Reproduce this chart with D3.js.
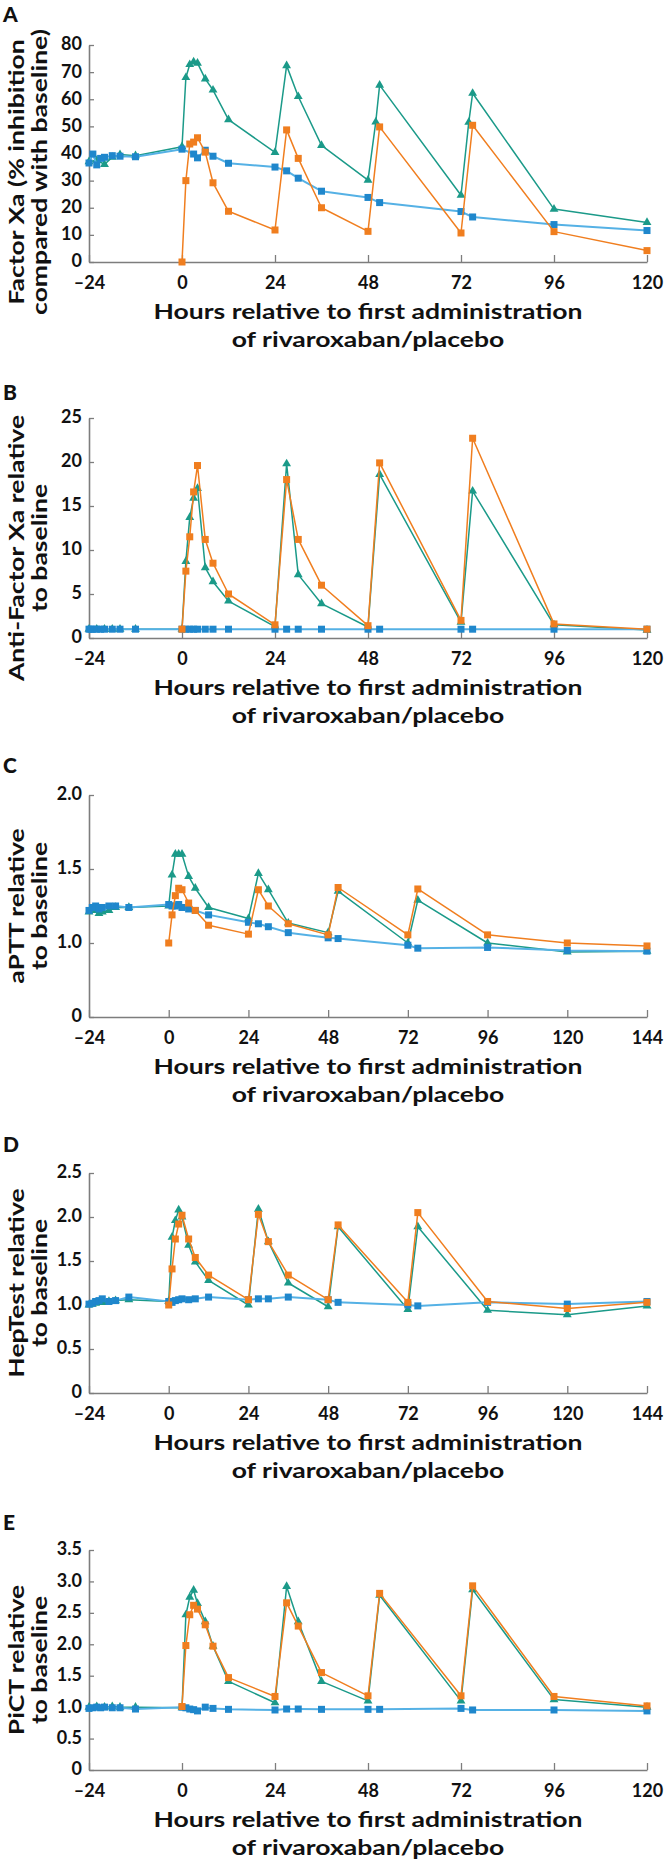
<!DOCTYPE html>
<html><head><meta charset="utf-8">
<script src="https://cdn.jsdelivr.net/npm/d3@7"></script>
<style>body{margin:0;background:#fff} svg{display:block}</style>
</head><body>
<svg id="chart" width="666" height="1862"></svg>
<script>
// ---------- tick labels ----------
const xTicksA = [-24, 0, 24, 48, 72, 96, 120];
const xTicksC = [-24, 0, 24, 48, 72, 96, 120, 144];
const yTicksA = [0, 10, 20, 30, 40, 50, 60, 70, 80];
const yTicksB = [0, 5, 10, 15, 20, 25];
const yTicksC = [0, 1.0, 1.5, 2.0];
const yTicksD = [0, 0.5, 1.0, 1.5, 2.0, 2.5];
const yTicksE = [0, 0.5, 1.0, 1.5, 2.0, 2.5, 3.0, 3.5];

// ---------- sampling times (hours relative to first administration) ----------
const tPlaceboA = [-24,-23,-22,-21,-20,-18,-16,-12,0,3,4,6,8,12,24,27,30,36,48,51,72,75,96,120];
const tPlaceboB = [-24,-23.5,-23,-22,-21,-20,-18,-16,-12,0,1,2,3,4,6,8,12,24,27,30,36,48,51,72,75,96,120];
const tPlaceboC = [-24,-23,-22,-21,-20,-18,-16,-12,0,1,2,3,4,6,8,12,24,27,30,36,48,51,72,75,96,120,144];
const tPlaceboE = [-24,-23,-22,-21,-20,-18,-16,-12,0,1,2,3,4,6,8,12,24,27,30,36,48,51,72,75,96,120];
const tRivaA = [0,1,2,3,4,6,8,12,24,27,30,36,48,51,72,75,96,120];
const tRivaC = [0,1,2,3,4,6,8,12,24,27,30,36,48,51,72,75,96,120,144];
const tTealA = [-24,-22,-20,-18,-16,-12,0,1,2,3,4,6,8,12,24,27,30,36,48,50,51,72,74,75,96,120];
const tTealB = [-24,-22,-20,-18,-16,-12,0,1,2,3,4,6,8,12,24,27,30,36,48,51,72,75,96,120];
const tTealC = [-24,-23,-22,-21,-20,-18,-16,-12,0,1,2,3,4,6,8,12,24,27,30,36,48,51,72,75,96,120,144];

// ---------- A: Factor Xa (% inhibition compared with baseline) ----------
const placeboA = [36.5,39.8,35.8,38.2,38.6,39.2,39.0,38.8,41.6,39.8,38.4,41.2,39.0,36.4,35.0,33.6,30.9,26.1,23.8,21.9,18.6,16.6,13.8,11.6];
const rivaA    = [0,30,43.5,44.2,45.8,40.5,29.2,18.7,11.8,48.7,38.2,20.0,11.3,49.8,10.7,50.4,11.2,4.2];
const tealA    = [37.0,37.5,36.0,38.6,39.6,39.2,42.5,68.0,72.8,73.8,73.3,67.5,63.4,52.5,40.4,72.4,61.0,43.0,30.2,51.6,65.2,24.6,51.5,62.2,19.5,14.6];

// ---------- B: Anti-Factor Xa relative to baseline ----------
const placeboB = [1.0,1.0,1.0,1.0,1.0,1.0,1.0,1.0,1.0,1.0,1.0,1.0,1.0,1.0,1.0,1.0,1.0,1.0,1.0,1.0,1.0,1.0,1.0,1.0,1.0,1.0,1.0];
const rivaB    = [1.0,7.6,11.5,16.6,19.6,11.2,8.5,5.0,1.5,18.0,11.2,6.0,1.4,19.9,2.0,22.7,1.6,1.0];
const tealB    = [1.0,1.0,1.0,1.0,1.0,1.0,1.0,8.7,13.7,15.9,17.0,8.0,6.4,4.2,1.3,19.8,7.2,3.9,1.25,18.6,1.8,16.7,1.5,0.9];

// ---------- C: aPTT relative to baseline ----------
const placeboC = [1.22,1.24,1.25,1.23,1.24,1.25,1.25,1.24,1.26,1.25,1.25,1.26,1.24,1.23,1.22,1.19,1.14,1.13,1.11,1.07,1.035,1.03,0.985,0.965,0.97,0.95,0.945];
const rivaC    = [1.0,1.19,1.32,1.37,1.36,1.27,1.22,1.12,1.06,1.36,1.25,1.13,1.055,1.375,1.055,1.365,1.055,1.0,0.98];
const tealC    = [1.21,1.23,1.22,1.2,1.21,1.22,1.24,1.24,1.25,1.46,1.60,1.60,1.60,1.45,1.37,1.24,1.165,1.47,1.36,1.135,1.07,1.35,1.0,1.29,1.0,0.94,0.945];

// ---------- D: HepTest relative to baseline ----------
const placeboD = [1.01,1.02,1.04,1.05,1.07,1.04,1.05,1.09,1.04,1.03,1.05,1.06,1.07,1.06,1.07,1.09,1.06,1.07,1.07,1.09,1.06,1.03,1.0,0.99,1.03,1.01,1.04];
const rivaD    = [1.0,1.41,1.75,1.92,2.02,1.75,1.54,1.34,1.06,2.03,1.72,1.34,1.06,1.91,1.03,2.05,1.04,0.96,1.03];
const tealD    = [1.0,1.01,1.02,1.03,1.03,1.04,1.05,1.06,1.04,1.77,1.96,2.08,2.0,1.68,1.49,1.28,1.0,2.09,1.72,1.25,0.98,1.89,0.95,1.89,0.94,0.89,0.99];

// ---------- E: PiCT relative to baseline ----------
const placeboE = [0.98,0.99,1.0,0.99,1.0,0.99,0.99,0.97,1.0,0.99,0.97,0.96,0.94,1.0,0.98,0.965,0.955,0.97,0.97,0.965,0.965,0.965,0.98,0.955,0.955,0.94];
const rivaE    = [1.01,1.98,2.47,2.62,2.56,2.31,1.97,1.47,1.17,2.66,2.29,1.55,1.18,2.81,1.18,2.93,1.17,1.02];
const tealE    = [1.0,1.01,1.0,1.01,1.0,1.0,0.99,2.47,2.75,2.86,2.65,2.36,1.97,1.41,1.07,2.92,2.36,1.41,1.1,2.78,1.1,2.87,1.12,1.0];

const xTitle = ["Hours relative to first administration", "of rivaroxaban/placebo"];

// ---------- layout / style ----------
const FONT = "Lato, 'Open Sans', sans-serif";
const X0 = 89, X1 = 647;
const AXIS_COLOR = "#7d7d7d";
const COL = { teal: "#1b9a89", orange: "#f07e1f", blueLine: "#55b1e5", blueMark: "#1f87cc" };

const panels = [
  { letter: "A", letterY: 22, top: 45, bottom: 262, xMax: 120, xTicks: xTicksA,
    yDomain: [0, 80], yFrac: [0, 1], yTicks: yTicksA, fmt: d => String(d),
    yTitle: ["Factor Xa (% inhibition", "compared with baseline)"], yTitleC: 172,
    series: [[tTealA, tealA, "teal"], [tPlaceboA, placeboA, "blue"], [tRivaA, rivaA, "orange"]] },
  { letter: "B", letterY: 400, top: 418, bottom: 638, xMax: 120, xTicks: xTicksA,
    yDomain: [0, 25], yFrac: [0, 1], yTicks: yTicksB, fmt: d => String(d),
    yTitle: ["Anti-Factor Xa relative", "to baseline"], yTitleC: 548,
    series: [[tTealB, tealB, "teal"], [tPlaceboB, placeboB, "blue"], [tRivaA, rivaB, "orange"]] },
  { letter: "C", letterY: 773, top: 795, bottom: 1017, xMax: 144, xTicks: xTicksC,
    yDomain: [0, 0.8, 2.0], yFrac: [0, 0.2, 1], yTicks: yTicksC, fmt: d => d === 0 ? "0" : d.toFixed(1),
    yTitle: ["aPTT relative", "to baseline"], yTitleC: 906,
    series: [[tTealC, tealC, "teal"], [tPlaceboC, placeboC, "blue"], [tRivaC, rivaC, "orange"]] },
  { letter: "D", letterY: 1152, top: 1173, bottom: 1393, xMax: 144, xTicks: xTicksC,
    yDomain: [0, 2.5], yFrac: [0, 1], yTicks: yTicksD, fmt: d => d === 0 ? "0" : d.toFixed(1),
    yTitle: ["HepTest relative", "to baseline"], yTitleC: 1283,
    series: [[tTealC, tealD, "teal"], [tPlaceboC, placeboD, "blue"], [tRivaC, rivaD, "orange"]] },
  { letter: "E", letterY: 1530, top: 1550, bottom: 1770, xMax: 120, xTicks: xTicksA,
    yDomain: [0, 3.5], yFrac: [0, 1], yTicks: yTicksE, fmt: d => d === 0 ? "0" : d.toFixed(1),
    yTitle: ["PiCT relative", "to baseline"], yTitleC: 1660,
    series: [[tTealB, tealE, "teal"], [tPlaceboE, placeboE, "blue"], [tRivaA, rivaE, "orange"]] }
];

const svg = d3.select("#chart");

// calibrate horizontal stretch of title font to reference width of first x-title line
const probe = svg.append("text").attr("font-family", FONT).attr("font-weight", 700)
  .attr("font-size", 21).text(xTitle[0]);
const STRETCH = 429 / probe.node().getComputedTextLength();
probe.remove();

function stretchedText(sel) {
  sel.each(function () {
    const w = this.getComputedTextLength();
    d3.select(this).attr("textLength", w * STRETCH).attr("lengthAdjust", "spacingAndGlyphs");
  });
}

const triangle = d3.symbol().type(d3.symbolTriangle).size(34);

panels.forEach(p => {
  const g = svg.append("g");
  const x = d3.scaleLinear().domain([-24, p.xMax]).range([X0, X1]);
  const y = d3.scaleLinear().domain(p.yDomain)
    .range(p.yFrac.map(f => p.bottom - f * (p.bottom - p.top)));

  // panel letter
  g.append("text").attr("x", 3).attr("y", p.letterY)
    .attr("font-family", FONT).attr("font-weight", 900).attr("font-size", 21)
    .attr("fill", "#111").text(p.letter);

  // axes
  const xAxis = d3.axisBottom(x).tickValues(p.xTicks).tickSize(-7).tickSizeOuter(0).tickPadding(14)
    .tickFormat(d => d < 0 ? "\u2013" + Math.abs(d) : String(d));
  const yAxis = d3.axisLeft(y).tickValues(p.yTicks).tickSize(-5).tickSizeOuter(0).tickPadding(7)
    .tickFormat(p.fmt);

  const gx = g.append("g").attr("transform", `translate(0,${p.bottom})`).call(xAxis);
  const gy = g.append("g").attr("transform", `translate(${X0},0)`).call(yAxis);
  [gx, gy].forEach(a => {
    a.select(".domain").attr("stroke", AXIS_COLOR).attr("stroke-width", 1.6);
    a.selectAll(".tick line").attr("stroke", AXIS_COLOR).attr("stroke-width", 1.3);
    a.selectAll(".tick text").attr("fill", "#111").attr("font-family", FONT)
      .attr("font-weight", 700).attr("font-size", 18);
  });
  gy.selectAll(".tick text").attr("dy", "0.27em");

  // x title (two lines)
  xTitle.forEach((t, i) => {
    g.append("text").attr("x", (X0 + X1) / 2).attr("y", p.bottom + 57 + i * 28)
      .attr("text-anchor", "middle").attr("font-family", FONT).attr("font-weight", 700)
      .attr("font-size", 21).attr("fill", "#111").text(t).call(stretchedText);
  });

  // y title (two rotated lines)
  p.yTitle.forEach((t, i) => {
    g.append("text").attr("transform", `translate(${24 + i * 23},${p.yTitleC}) rotate(-90)`)
      .attr("text-anchor", "middle").attr("font-family", FONT).attr("font-weight", 700)
      .attr("font-size", 21).attr("fill", "#111").text(t).call(stretchedText);
  });

  // series
  const line = d3.line().x(d => x(d[0])).y(d => y(d[1]));
  p.series.forEach(([ts, vs, kind]) => {
    const pts = d3.zip(ts, vs);
    const lineColor = kind === "teal" ? COL.teal : kind === "orange" ? COL.orange : COL.blueLine;
    const markColor = kind === "teal" ? COL.teal : kind === "orange" ? COL.orange : COL.blueMark;
    g.append("path").datum(pts).attr("d", line).attr("fill", "none")
      .attr("stroke", lineColor).attr("stroke-width", kind === "blue" ? 2 : 1.5)
      .attr("stroke-linejoin", "round");
    if (kind === "teal") {
      g.selectAll(null).data(pts).join("path")
        .attr("transform", d => `translate(${x(d[0])},${y(d[1])})`)
        .attr("d", triangle).attr("fill", markColor);
    } else {
      g.selectAll(null).data(pts).join("rect")
        .attr("x", d => x(d[0]) - 3.5).attr("y", d => y(d[1]) - 3.5)
        .attr("width", 7).attr("height", 7).attr("fill", markColor);
    }
  });
});
</script>
</body></html>
